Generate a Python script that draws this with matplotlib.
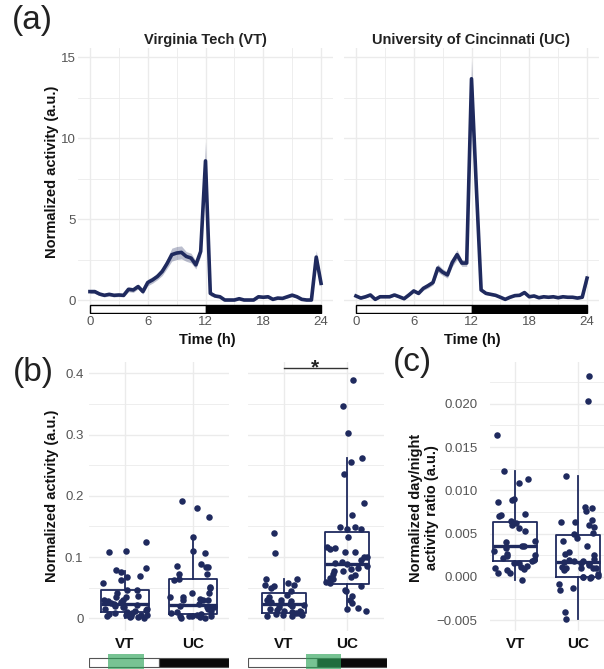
import numpy as np
import matplotlib.pyplot as plt
from matplotlib.patches import Rectangle

plt.rcParams['font.family'] = ['Liberation Sans', 'DejaVu Sans']

# ---- data ----
hours = np.arange(0, 24.5, 0.5)

vt_mean = [0.52, 0.52, 0.37, 0.29, 0.35, 0.29, 0.31, 0.29, 0.66, 0.62,
           0.83, 0.52, 1.08, 1.24, 1.45, 1.76, 2.24, 2.80, 2.90, 2.94,
           2.69, 2.59, 2.17, 3.00, 8.59, 0.41, 0.25, 0.20, 0.00, 0.00,
           0.00, 0.08, 0.00, 0.00, 0.00, 0.20, 0.17, 0.20, 0.04, 0.12,
           0.10, 0.20, 0.30, 0.20, 0.04, 0.00, 0.00, 2.65, 1.03]
vt_se = [0.12, 0.12, 0.1, 0.1, 0.1, 0.1, 0.1, 0.1, 0.15, 0.15,
         0.15, 0.15, 0.2, 0.2, 0.2, 0.25, 0.3, 0.4, 0.4, 0.4,
         0.3, 0.3, 0.25, 0.3, 1.2, 0.15, 0.1, 0.08, 0.06, 0.06,
         0.06, 0.06, 0.06, 0.06, 0.06, 0.08, 0.08, 0.08, 0.06, 0.06,
         0.06, 0.08, 0.1, 0.08, 0.06, 0.06, 0.06, 0.4, 0.25]

uc_mean = [0.25, 0.12, 0.20, 0.31, 0.04, 0.20, 0.20, 0.20, 0.31, 0.20,
           0.08, 0.31, 0.56, 0.41, 0.72, 0.89, 1.08, 1.97, 1.72, 1.55,
           2.32, 2.80, 2.28, 2.28, 13.66, 7.00, 0.62, 0.41, 0.35, 0.29,
           0.17, 0.04, 0.17, 0.27, 0.29, 0.46, 0.20, 0.25, 0.14, 0.20,
           0.17, 0.20, 0.14, 0.20, 0.17, 0.17, 0.12, 0.17, 1.35]
uc_se = [0.08, 0.06, 0.06, 0.06, 0.06, 0.06, 0.06, 0.06, 0.06, 0.06,
         0.06, 0.08, 0.1, 0.1, 0.12, 0.15, 0.15, 0.25, 0.2, 0.2,
         0.25, 0.3, 0.2, 0.2, 1.2, 0.6, 0.1, 0.08, 0.08, 0.06,
         0.06, 0.06, 0.06, 0.06, 0.06, 0.08, 0.06, 0.06, 0.06, 0.06,
         0.06, 0.06, 0.06, 0.06, 0.06, 0.06, 0.06, 0.06, 0.3]

sites = ['VT', 'UC']
site_titles = ['Virginia Tech (VT)', 'University of Cincinnati (UC)']

# panel b, window 1 (during light)
b1_vt = [0.110, 0.125, 0.108, 0.082, 0.079, 0.075, 0.069, 0.062, 0.067, 0.058,
         0.047, 0.046, 0.041, 0.036, 0.034, 0.030, 0.028, 0.026, 0.025, 0.024,
         0.022, 0.020, 0.018, 0.016, 0.014, 0.012, 0.010, 0.008, 0.007, 0.006,
         0.005, 0.004, 0.003, 0.002, 0.002, 0.001, 0.030, 0.035, 0.019, 0.015,
         0.009, 0.005]
b1_uc = [0.180, 0.191, 0.166, 0.133, 0.110, 0.106, 0.085, 0.083, 0.088, 0.083,
         0.072, 0.072, 0.064, 0.062, 0.042, 0.051, 0.050, 0.042, 0.035, 0.034,
         0.032, 0.030, 0.030, 0.030, 0.020, 0.023, 0.018, 0.018, 0.010, 0.004,
         0.004, 0.004, 0.006, 0.008, 0.007, 0.019, 0.015, 0.012, 0.002, 0.001,
         0.001, 0.003]
# panel b, window 2 (around lights off)
b2_vt = [0.139, 0.107, 0.065, 0.064, 0.058, 0.055, 0.050, 0.055, 0.052, 0.045,
         0.038, 0.035, 0.030, 0.028, 0.025, 0.024, 0.022, 0.020, 0.018, 0.016,
         0.014, 0.012, 0.010, 0.008, 0.007, 0.006, 0.005, 0.004, 0.003, 0.030,
         0.026, 0.012, 0.010, 0.008]
b2_uc = [0.389, 0.347, 0.303, 0.256, 0.262, 0.236, 0.189, 0.168, 0.146, 0.146,
         0.149, 0.149, 0.132, 0.114, 0.113, 0.117, 0.108, 0.108, 0.100, 0.096,
         0.092, 0.100, 0.080, 0.082, 0.078, 0.078, 0.073, 0.065, 0.068, 0.066,
         0.060, 0.053, 0.058, 0.047, 0.044, 0.036, 0.015, 0.012, 0.017, 0.030,
         0.025, 0.088, 0.085, 0.090, 0.070]
# panel c, day/night ratio
c_vt = [0.0164, 0.0122, 0.0113, 0.0109, 0.0087, 0.0089, 0.0090, 0.0072, 0.0073, 0.0071,
        0.0065, 0.0062, 0.0060, 0.0057, 0.0053, 0.0042, 0.0040, 0.0036, 0.0036, 0.0034,
        0.0030, 0.0025, 0.0024, 0.0026, 0.0019, 0.0016, 0.0016, 0.0013, 0.0010, 0.0009,
        0.0005, 0.0005, -0.0004, 0.0020, 0.0022, 0.0012, 0.0008]
c_uc = [0.0232, 0.0203, 0.0117, 0.0080, 0.0081, 0.0076, 0.0066, 0.0064, 0.0060, 0.0058,
        0.0063, 0.0051, 0.0050, 0.0045, 0.0042, 0.0036, 0.0029, 0.0025, 0.0020, 0.0016,
        0.0018, 0.0018, 0.0026, 0.0017, 0.0015, 0.0014, 0.0010, 0.0010, 0.0010, 0.0010,
        0.0008, 0.0004, 0.0000, 0.0000, 0.0001, -0.0001, 0.0000, -0.0008, -0.0013, -0.0015,
        -0.0040, -0.0048, 0.0021, 0.0012]

# box stats (whislo, q1, med, q3, whishi)
b1_box = [(0.001, 0.0098, 0.023, 0.046, 0.077), (0.001, 0.0065, 0.022, 0.064, 0.134)]
b2_box = [(0.003, 0.008, 0.024, 0.042, 0.064), (0.012, 0.0565, 0.088, 0.141, 0.261)]
c_box = [(-0.0003, 0.0019, 0.0036, 0.0064, 0.0122), (-0.0048, 0.0000, 0.0017, 0.0048, 0.0117)]

light_on = (0, 12)
dark_on = (12, 24)
window1 = (3.3, 9.4)
window2 = (10, 16)

# ---- style ----
W, H = 604, 669
navy = '#1f2a5e'
grid_c = '#ebebeb'
tick_c = '#555555'
green = '#2ea359'


def px(x0, y0, x1, y1):
    return [x0 / W, 1 - y1 / H, (x1 - x0) / W, (y1 - y0) / H]


def clean(ax):
    for s in ax.spines.values():
        s.set_visible(False)
    ax.tick_params(length=0, colors=tick_c, labelsize=9.5)
    ax.set_axisbelow(True)


fig = plt.figure(figsize=(W / 100, H / 100), dpi=100)

# ---- panel a ----
a_boxes = [px(78.4, 48, 332.6, 314), px(344.4, 48, 598.6, 314)]
a_means = [vt_mean, uc_mean]
a_ses = [vt_se, uc_se]
for i in range(2):
    ax = fig.add_axes(a_boxes[i])
    clean(ax)
    m = np.array(a_means[i])
    se = np.array(a_ses[i])
    ax.fill_between(hours, m - se, m + se, color=navy, alpha=0.3, lw=0)
    ax.plot(hours, m, color=navy, lw=2.6, solid_joinstyle='round')
    ax.set_xlim(-1.2, 25.2)
    ax.set_ylim(-0.864, 15.56)
    ax.set_xticks([0, 6, 12, 18, 24])
    ax.set_xticks([3, 9, 15, 21], minor=True)
    ax.set_yticks([0, 5, 10, 15])
    ax.set_yticks([2.5, 7.5, 12.5], minor=True)
    ax.tick_params(which='minor', length=0)
    ax.grid(which='major', color=grid_c, lw=1.0)
    ax.grid(which='minor', color=grid_c, lw=0.6)
    ax.tick_params(axis='x', pad=1.5)
    ax.tick_params(axis='y', pad=2)
    if i == 1:
        ax.set_yticklabels([])
    # light/dark bar
    ax.add_patch(Rectangle((light_on[0], -0.78), light_on[1] - light_on[0], 0.5,
                           facecolor='white', edgecolor='black', lw=1.0, zorder=3))
    ax.add_patch(Rectangle((dark_on[0], -0.78), dark_on[1] - dark_on[0], 0.5,
                           facecolor='black', edgecolor='black', lw=1.0, zorder=3))
    ax.set_title(site_titles[i], fontsize=10.5, fontweight='bold', color='#222222', pad=3)

fig.text(207 / W, 1 - 340 / H, 'Time (h)', fontsize=10.5, fontweight='bold',
         ha='center', va='center', color='#111111')
fig.text(472 / W, 1 - 340 / H, 'Time (h)', fontsize=10.5, fontweight='bold',
         ha='center', va='center', color='#111111')
fig.text(52 / W, 1 - 172 / H, 'Normalized activity (a.u.)', fontsize=10.5,
         fontweight='bold', rotation=90, ha='center', va='center', color='#111111')


# ---- box + jitter helper ----
def box_panel(ax, values, stats, seed):
    rng = np.random.default_rng(seed)
    bstats = []
    for k, st in enumerate(stats):
        bstats.append(dict(whislo=st[0], q1=st[1], med=st[2], q3=st[3], whishi=st[4],
                           fliers=[], label=sites[k]))
    ax.bxp(bstats, positions=[1, 2], widths=0.7, showfliers=False, showcaps=False,
           boxprops=dict(color=navy, lw=1.3),
           whiskerprops=dict(color=navy, lw=1.3),
           medianprops=dict(color=navy, lw=2.4))
    for k, vals in enumerate(values):
        x = (k + 1) + rng.uniform(-0.34, 0.34, len(vals))
        ax.scatter(x, vals, s=22, color=navy, lw=0, zorder=4)
    ax.set_xticks([1, 2])
    ax.set_xticklabels(sites, fontsize=11, fontweight='bold', color='#111111')
    ax.tick_params(axis='x', pad=5)
    ax.grid(axis='x', which='major', color=grid_c, lw=1.0)
    ax.grid(axis='y', which='major', color=grid_c, lw=1.0)
    ax.grid(axis='y', which='minor', color=grid_c, lw=0.6)
    ax.tick_params(which='minor', length=0)


# ---- panel b ----
axb1 = fig.add_axes(px(89, 362, 229, 630.5))
clean(axb1)
box_panel(axb1, [b1_vt, b1_uc], b1_box, 1)
axb1.set_xlim(0.47, 2.53)
axb1.set_ylim(-0.0199, 0.4185)
axb1.set_yticks([0, 0.1, 0.2, 0.3, 0.4])
axb1.set_yticklabels(['0', '0.1', '0.2', '0.3', '0.4'])
axb1.set_yticks([0.05, 0.15, 0.25, 0.35], minor=True)
axb1.tick_params(axis='y', pad=4)

axb2 = fig.add_axes(px(248, 362, 384, 630.5))
clean(axb2)
box_panel(axb2, [b2_vt, b2_uc], b2_box, 2)
axb2.set_xlim(0.43, 2.59)
axb2.set_ylim(-0.0199, 0.4185)
axb2.set_yticks([0, 0.1, 0.2, 0.3, 0.4])
axb2.set_yticklabels([])
axb2.set_yticks([0.05, 0.15, 0.25, 0.35], minor=True)
axb2.plot([1, 2], [0.4087, 0.4087], color='#333333', lw=1.0, clip_on=False)
axb2.text(1.5, 0.4087, '*', fontsize=15, fontweight='bold', ha='center', va='center',
          color='#222222', clip_on=False)

fig.text(52 / W, 1 - 496 / H, 'Normalized activity (a.u.)', fontsize=10.5,
         fontweight='bold', rotation=90, ha='center', va='center', color='#111111')

# light schedule bars under panel b
for bx, win in [((89.3, 228.7), window1), ((247.7, 387), window2)]:
    axl = fig.add_axes(px(bx[0], 652, bx[1], 669))
    axl.set_axis_off()
    axl.set_xlim(0, 24)
    axl.set_ylim(0, 1)
    axl.add_patch(Rectangle((light_on[0], 0.12), light_on[1] - light_on[0], 0.53,
                            facecolor='white', edgecolor='#555555', lw=0.8))
    axl.add_patch(Rectangle((dark_on[0], 0.12), dark_on[1] - dark_on[0], 0.53,
                            facecolor='#0a0a0a', edgecolor='#555555', lw=0.8))
    axl.add_patch(Rectangle((win[0], 0.02), win[1] - win[0], 0.86,
                            facecolor=green, alpha=0.65, lw=0))

# ---- panel c ----
axc = fig.add_axes(px(490, 362, 604, 630.5))
clean(axc)
box_panel(axc, [c_vt, c_uc], c_box, 3)
axc.set_xlim(0.6, 2.41)
axc.set_ylim(-0.00618, 0.02483)
axc.set_yticks([-0.005, 0, 0.005, 0.01, 0.015, 0.02])
axc.set_yticklabels(['\u22120.005', '0.000', '0.005', '0.010', '0.015', '0.020'])
axc.set_yticks([-0.0025, 0.0025, 0.0075, 0.0125, 0.0175, 0.0225], minor=True)
axc.tick_params(axis='y', pad=9)

fig.text(424 / W, 1 - 508 / H, 'Normalized day/night\nactivity ratio (a.u.)', fontsize=10.5,
         fontweight='bold', rotation=90, ha='center', va='center', color='#111111',
         linespacing=1.1)

# ---- panel letters ----
fig.text(32 / W, 1 - 21 / H, '(a)', fontsize=24, ha='center', va='center', color='#222222')
fig.text(33 / W, 1 - 372 / H, '(b)', fontsize=24, ha='center', va='center', color='#222222')
fig.text(412 / W, 1 - 363 / H, '(c)', fontsize=24, ha='center', va='center', color='#222222')

fig.savefig('out.png', dpi=100)
